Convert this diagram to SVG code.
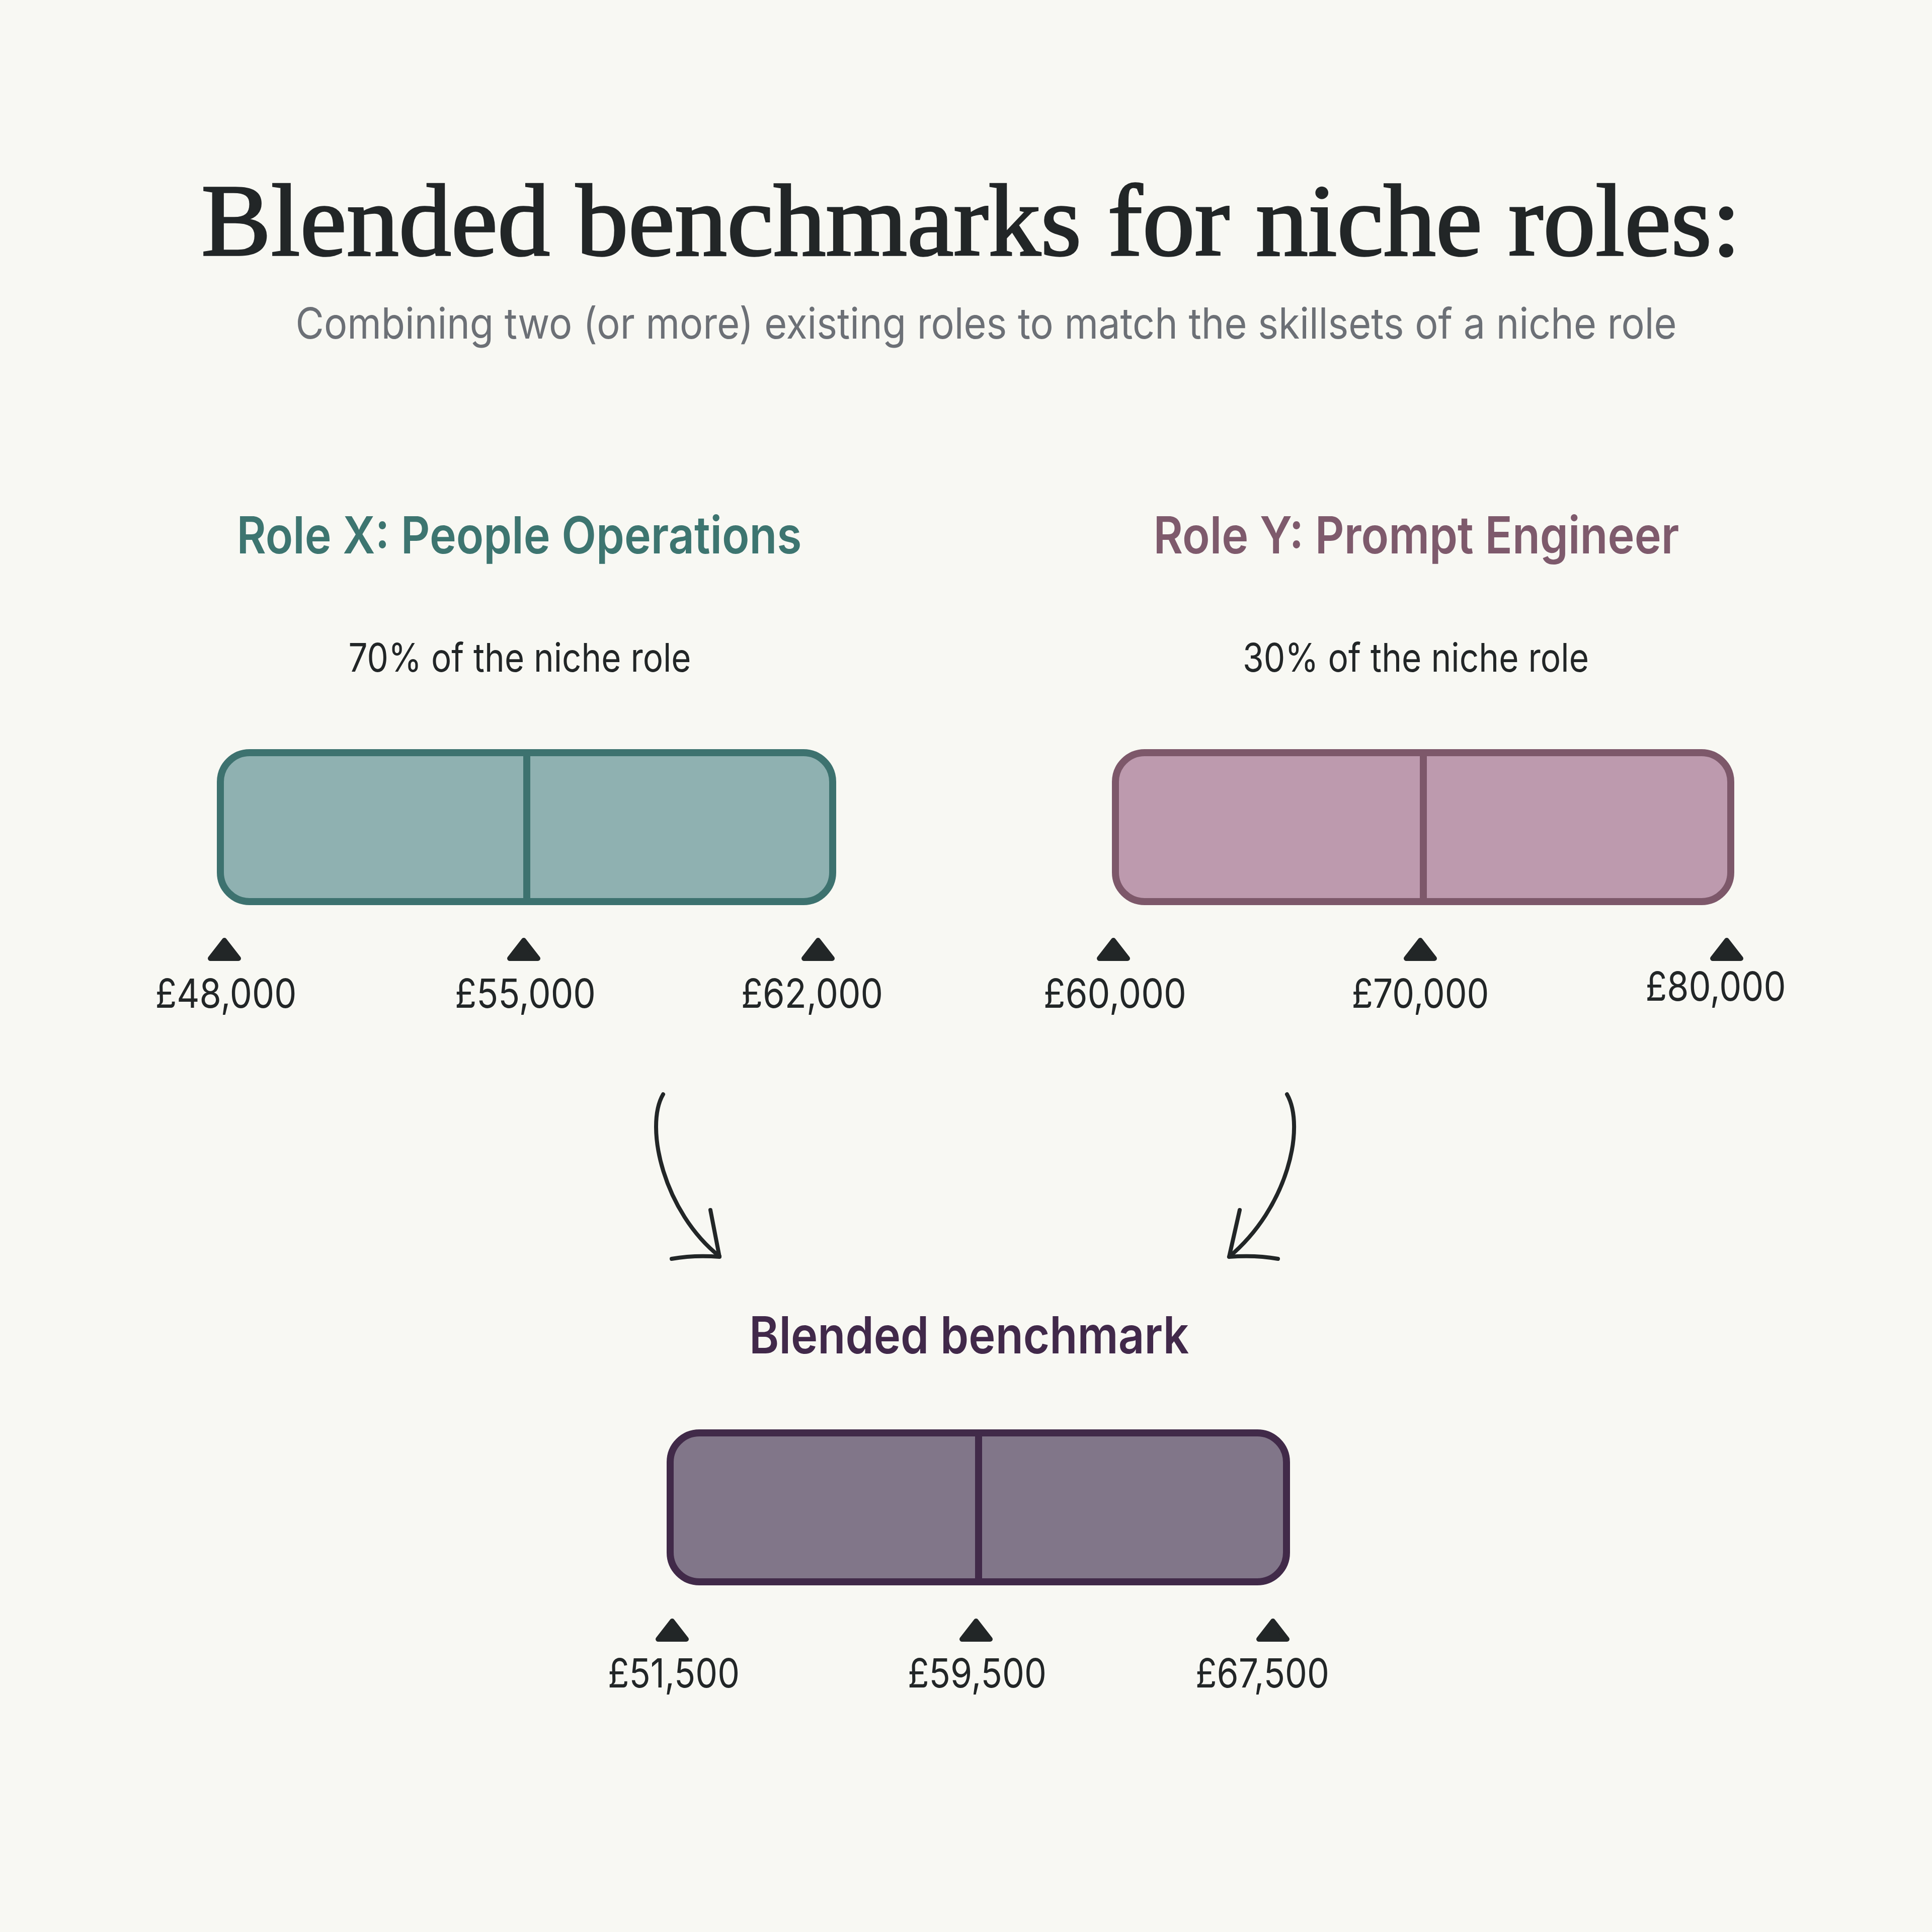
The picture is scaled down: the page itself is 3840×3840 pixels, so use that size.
<svg xmlns="http://www.w3.org/2000/svg" width="3840" height="3840" viewBox="0 0 3840 3840">
<style>
.title{font-family:"Liberation Serif","DejaVu Serif",serif;font-size:204px;fill:#222627;stroke:#222627;stroke-width:3.5px}
.sub{font-family:Inter,"Noto Sans",sans-serif;font-size:85px;fill:#6c7076}
.head{font-family:Inter,"Noto Sans",sans-serif;font-size:102px;font-weight:600}
.pct{font-family:Inter,"Noto Sans",sans-serif;font-size:78px;fill:#222627}
.val{font-family:Inter,"Noto Sans",sans-serif;font-size:80px;fill:#222627}
.tri{fill:#222627;stroke:#222627;stroke-width:10;stroke-linejoin:round}
.bar{stroke-width:14}
.div{stroke-width:14}
.arrow{fill:none;stroke:#222627;stroke-width:8;stroke-linecap:round;stroke-linejoin:round}
text{text-anchor:middle}
</style>
<rect width="3840" height="3840" fill="#f8f8f3"/>
<g id="title">
<text class="title" x="1930" y="507" textLength="3060" lengthAdjust="spacingAndGlyphs">Blended benchmarks for niche roles:</text>
<text class="sub" x="1960" y="673" textLength="2745" lengthAdjust="spacingAndGlyphs">Combining two (or more) existing roles to match the skillsets of a niche role</text>
</g>
<g id="role-x">
<text class="head" x="1032" y="1100" fill="#3d7570" textLength="1123" lengthAdjust="spacingAndGlyphs">Role X: People Operations</text>
<text class="pct" x="1033" y="1335" textLength="681" lengthAdjust="spacingAndGlyphs">70% of the niche role</text>
<rect class="bar" x="438" y="1496" width="1217" height="296" rx="58" fill="#8fb1b1" stroke="#3d726f"/>
<line class="div" x1="1047" y1="1496" x2="1047" y2="1792" stroke="#3d726f"/>
<polygon class="tri" points="418,1905 474,1905 446,1869"/>
<polygon class="tri" points="1013,1905 1069,1905 1041,1869"/>
<polygon class="tri" points="1598,1905 1654,1905 1626,1869"/>
<text class="val" x="449" y="2003" textLength="281" lengthAdjust="spacingAndGlyphs">£48,000</text>
<text class="val" x="1044" y="2003" textLength="280" lengthAdjust="spacingAndGlyphs">£55,000</text>
<text class="val" x="1614" y="2003" textLength="282" lengthAdjust="spacingAndGlyphs">£62,000</text>
</g>
<g id="role-y">
<text class="head" x="2815" y="1100" fill="#7e5a6c" textLength="1045" lengthAdjust="spacingAndGlyphs">Role Y: Prompt Engineer</text>
<text class="pct" x="2814" y="1335" textLength="688" lengthAdjust="spacingAndGlyphs">30% of the niche role</text>
<rect class="bar" x="2217" y="1496" width="1223" height="296" rx="58" fill="#bd9aae" stroke="#7d586a"/>
<line class="div" x1="2829" y1="1496" x2="2829" y2="1792" stroke="#7d586a"/>
<polygon class="tri" points="2185,1905 2241,1905 2213,1869"/>
<polygon class="tri" points="2795,1905 2851,1905 2823,1869"/>
<polygon class="tri" points="3404,1905 3460,1905 3432,1869"/>
<text class="val" x="2216" y="2003" textLength="284" lengthAdjust="spacingAndGlyphs">£60,000</text>
<text class="val" x="2823" y="2003" textLength="273" lengthAdjust="spacingAndGlyphs">£70,000</text>
<text class="val" x="3410" y="1989" textLength="279" lengthAdjust="spacingAndGlyphs">£80,000</text>
</g>
<g id="connectors">
<path class="arrow" d="M1318,2175 C1280,2240 1320,2410 1430,2497"/>
<path class="arrow" d="M1412,2405 L1430,2498 M1335,2502 Q1380,2494 1430,2498"/>
<path class="arrow" d="M2558,2175 C2595,2240 2560,2400 2443,2498"/>
<path class="arrow" d="M2464,2405 L2443,2498 M2540,2502 Q2495,2494 2443,2498"/>
</g>
<g id="blended">
<text class="head" x="1926" y="2690" fill="#41294a" textLength="874" lengthAdjust="spacingAndGlyphs">Blended benchmark</text>
<rect class="bar" x="1332" y="2848" width="1225" height="296" rx="58" fill="#817689" stroke="#412a49"/>
<line class="div" x1="1945" y1="2848" x2="1945" y2="3144" stroke="#412a49"/>
<polygon class="tri" points="1308,3258 1364,3258 1336,3222"/>
<polygon class="tri" points="1912,3258 1968,3258 1940,3222"/>
<polygon class="tri" points="2502,3258 2558,3258 2530,3222"/>
<text class="val" x="1339" y="3354" textLength="262" lengthAdjust="spacingAndGlyphs">£51,500</text>
<text class="val" x="1942" y="3354" textLength="276" lengthAdjust="spacingAndGlyphs">£59,500</text>
<text class="val" x="2509" y="3354" textLength="266" lengthAdjust="spacingAndGlyphs">£67,500</text>
</g>
</svg>
